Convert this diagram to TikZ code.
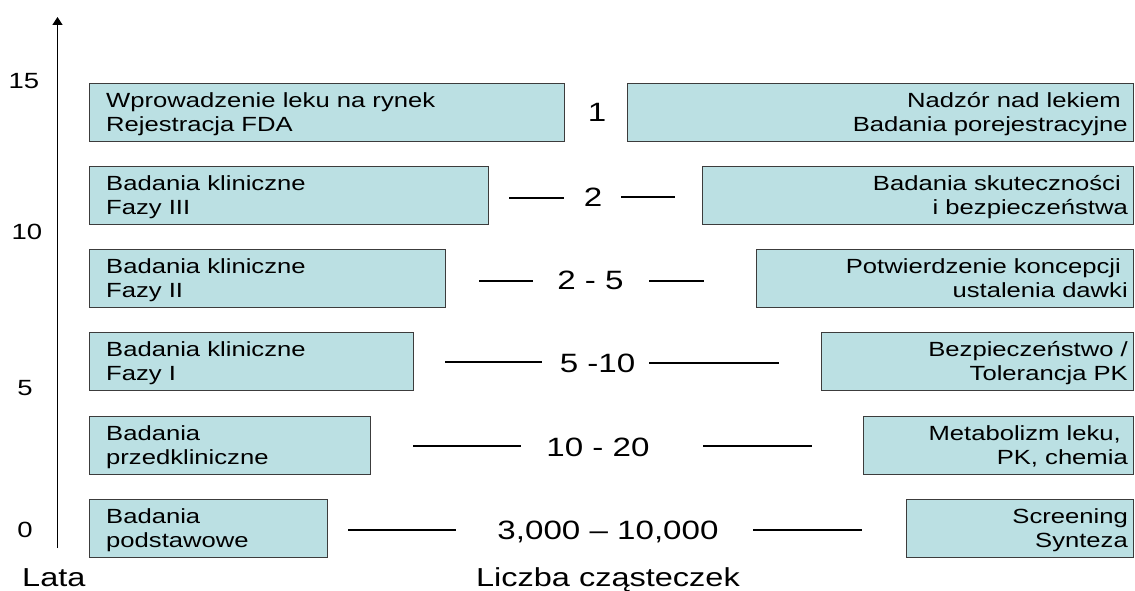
\documentclass[tikz,border=0pt]{standalone}
\usepackage{fontspec}
\setmainfont{Liberation Sans}
\newfontfamily\widesans{Liberation Sans}[FakeStretch=1.25]
\usetikzlibrary{arrows.meta}

\definecolor{boxfill}{RGB}{187,224,227}
\definecolor{boxline}{RGB}{60,60,60}

% two-line box caption with equal line boxes
\newcommand\twolines[2]{\strut#1\\\strut#2}

\tikzset{
  stagebox/.style={draw=boxline, fill=boxfill, line width=1.3pt,
    minimum height=58pt, inner sep=0pt},
  lbox/.style={stagebox, anchor=north west},
  rbox/.style={stagebox, anchor=north east},
  ltext/.style={inner sep=0pt, anchor=west, align=left,
    font=\widesans\fontsize{20.5}{24.5}\selectfont},
  rtext/.style={inner sep=0pt, anchor=east, align=right,
    font=\widesans\fontsize{20.5}{24.5}\selectfont},
  count/.style={inner sep=0pt, anchor=base,
    font=\widesans\fontsize{26.5}{30}\selectfont},
  tick/.style={inner sep=0pt, anchor=base,
    font=\widesans\fontsize{22}{26}\selectfont},
  axtitle/.style={inner sep=0pt, anchor=base,
    font=\widesans\fontsize{26}{30}\selectfont},
  dashline/.style={draw=black, line width=1.2pt},
}

\begin{document}
\begin{tikzpicture}[x=1pt, y=-1pt]
\useasboundingbox (0,0) rectangle (1135,591);

% vertical time axis
\coordinate (axbot) at (57.5,548);
\coordinate (axtop) at (57.5,17);
\draw[line width=1.5pt, -{Triangle[length=8pt,width=10pt]}] (axbot) -- (axtop);

\node[tick] (t15) at (24,89) {15};
\node[tick] (t10) at (27,239) {10};
\node[tick] (t5)  at (25,395) {5};
\node[tick] (t0)  at (25,537) {0};
\node[axtitle, anchor=base west] (lata) at (22,586) {Lata};
\node[axtitle] (liczba) at (608,586) {Liczba cząsteczek};

% left column: stages
\node[lbox, minimum width=475pt] (L1) at (89,83)  {};
\node[lbox, minimum width=399pt] (L2) at (89,166) {};
\node[lbox, minimum width=356pt] (L3) at (89,249) {};
\node[lbox, minimum width=324pt] (L4) at (89,332) {};
\node[lbox, minimum width=281pt] (L5) at (89,416) {};
\node[lbox, minimum width=238pt] (L6) at (89,499) {};

\node[ltext] (L1t) at (106,114.6) {\twolines{Wprowadzenie leku na rynek}{Rejestracja FDA}};
\node[ltext] (L2t) at (106,197.6) {\twolines{Badania kliniczne}{Fazy III}};
\node[ltext] (L3t) at (106,280.6) {\twolines{Badania kliniczne}{Fazy II}};
\node[ltext] (L4t) at (106,363.6) {\twolines{Badania kliniczne}{Fazy I}};
\node[ltext] (L5t) at (106,447.6) {\twolines{Badania}{przedkliniczne}};
\node[ltext] (L6t) at (106,530.6) {\twolines{Badania}{podstawowe}};

% right column: activities
\node[rbox, minimum width=506pt] (R1) at (1134,83)  {};
\node[rbox, minimum width=431pt] (R2) at (1134,166) {};
\node[rbox, minimum width=377pt] (R3) at (1134,249) {};
\node[rbox, minimum width=312pt] (R4) at (1134,332) {};
\node[rbox, minimum width=270pt] (R5) at (1134,416) {};
\node[rbox, minimum width=227pt] (R6) at (1134,499) {};

\node[rtext] (R1t) at (1128,114.6) {\twolines{Nadzór nad lekiem\kern7pt}{Badania porejestracyjne}};
\node[rtext] (R2t) at (1128,197.6) {\twolines{Badania skuteczności\kern7pt}{i bezpieczeństwa}};
\node[rtext] (R3t) at (1128,280.6) {\twolines{Potwierdzenie koncepcji\kern7pt}{ustalenia dawki}};
\node[rtext] (R4t) at (1128,363.6) {\twolines{Bezpieczeństwo /}{Tolerancja PK}};
\node[rtext] (R5t) at (1128,447.6) {\twolines{Metabolizm leku,\kern7pt}{PK, chemia}};
\node[rtext] (R6t) at (1128,530.6) {\twolines{Screening}{Synteza}};

% number of molecules at each stage
\node[count] (n1) at (597,122)   {1};
\node[count] (n2) at (593,206)   {2};
\node[count] (n3) at (590.5,289) {2 - 5};
\node[count] (n4) at (597.5,372.7) {5 -10};
\node[count] (n5) at (598,456.7) {10 - 20};
\node[count] (n6) at (608,539.5) {3,000 – 10,000};

% short rules beside the counts
\coordinate (a2) at (509,198); \coordinate (b2) at (564,198);
\coordinate (c2) at (621,197); \coordinate (d2) at (675,197);
\coordinate (a3) at (479,281); \coordinate (b3) at (533,281);
\coordinate (c3) at (649,281); \coordinate (d3) at (704,281);
\coordinate (a4) at (445,362); \coordinate (b4) at (542,362);
\coordinate (c4) at (649,363); \coordinate (d4) at (779,363);
\coordinate (a5) at (413,446); \coordinate (b5) at (521,446);
\coordinate (c5) at (703,446); \coordinate (d5) at (812,446);
\coordinate (a6) at (348,530); \coordinate (b6) at (456,530);
\coordinate (c6) at (753,530); \coordinate (d6) at (862,530);
\foreach \i in {2,...,6}{
  \draw[dashline] (a\i) -- (b\i);
  \draw[dashline] (c\i) -- (d\i);
}
\end{tikzpicture}
\end{document}
